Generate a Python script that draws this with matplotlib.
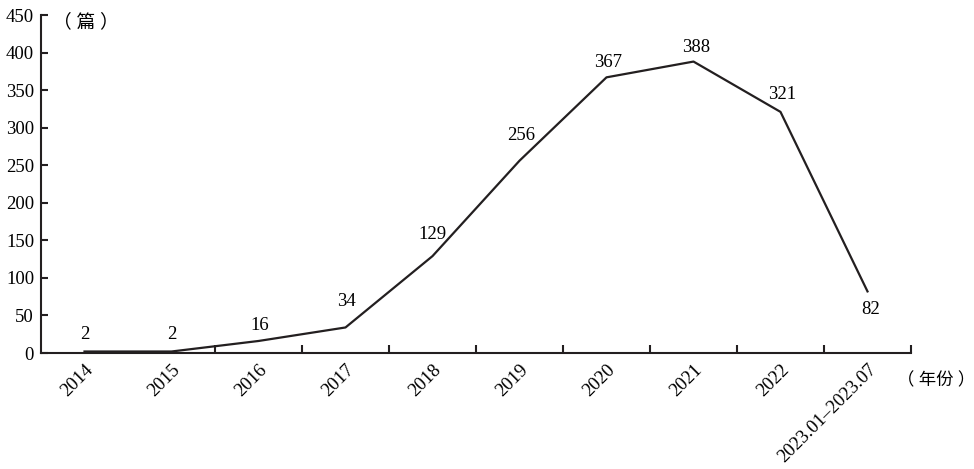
import numpy as np
import matplotlib.pyplot as plt

years = ['2014', '2015', '2016', '2017', '2018', '2019', '2020', '2021', '2022',
         '2023.01\u20132023.07']
counts = [2, 2, 16, 34, 129, 256, 367, 388, 321, 82]

# label offsets in pixels (dx, dy) from each point, placed by hand like the source
label_off = [(0, 17), (0, 17), (1, 15), (1, 26), (0, 22), (2, 25),
             (2, 15), (3, 14), (2, 17), (3, -18)]

plt.rcParams['font.family'] = ['Liberation Serif', 'Noto Sans CJK SC']
plt.rcParams['font.size'] = 13.5

W, H = 974, 469
fig = plt.figure(figsize=(W / 100, H / 100), dpi=100)
ax = fig.add_axes([41 / W, 1 - 353 / H, 870 / W, 338 / H])

X = np.arange(len(years))
ax.plot(X, counts, color='#231f20', lw=1.6)

for x, v, (dx, dy) in zip(X, counts, label_off):
    ax.annotate(str(v), (x, v), xytext=(dx * 0.72, dy * 0.72),
                textcoords='offset points', ha='center', va='center')

ax.set_xlim(-0.5, len(years) - 0.5)
ax.set_ylim(0, 450)
ax.set_yticks(np.arange(0, 451, 50))
ax.set_xticks(X)
ax.set_xticklabels(years, rotation=45, ha='right', rotation_mode='anchor')
ax.set_xticks(X[1:] + 0.5, minor=True)
ax.tick_params(axis='x', which='major', length=0, pad=6)
ax.tick_params(axis='x', which='minor', direction='in', length=6, width=1.5, color='#231f20')
ax.tick_params(axis='y', direction='in', length=5, width=1.5, color='#231f20', pad=5)

for s in ['top', 'right']:
    ax.spines[s].set_visible(False)
for s in ['left', 'bottom']:
    ax.spines[s].set_linewidth(1.5)
    ax.spines[s].set_color('#231f20')

fig.text(53 / W, 1 - 22 / H, '（ 篇 ）', ha='left', va='center')
fig.text(897 / W, 1 - 381 / H, '（ 年份 ）', ha='left', va='center', fontsize=12.5)

plt.savefig('out.png')
